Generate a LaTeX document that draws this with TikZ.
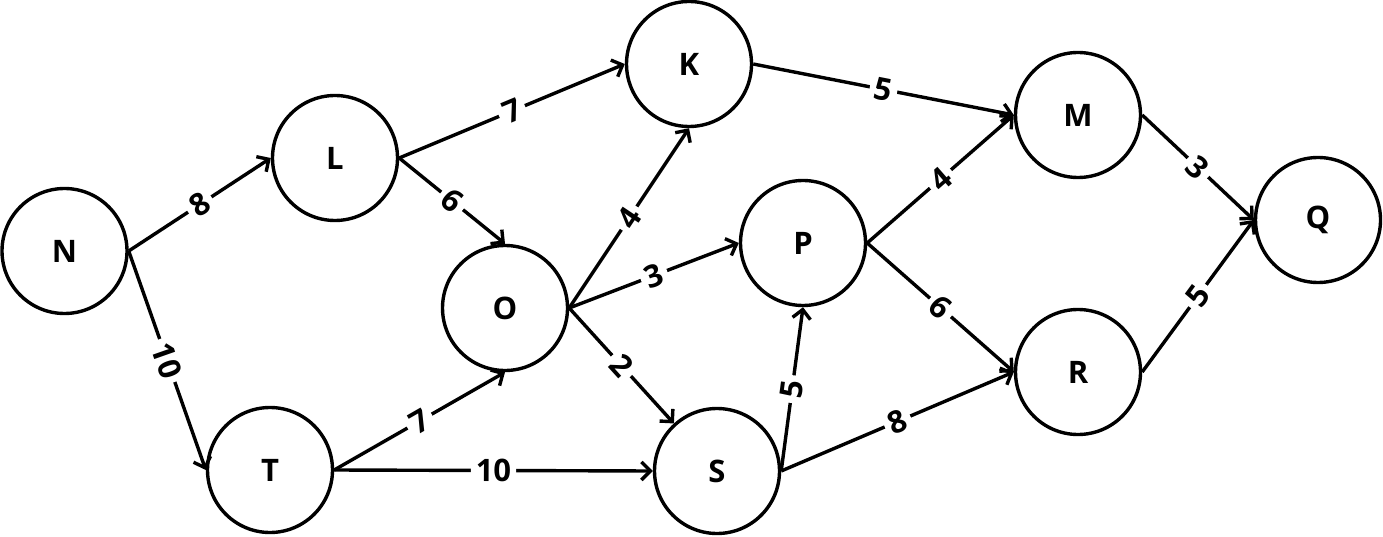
\documentclass[tikz,border=0pt]{standalone}
\usepackage{fontspec}
\setmainfont{Open Sans}
\usetikzlibrary{arrows.meta}
\tikzset{
  nd/.style={circle, draw, line width=3.4pt, minimum size=125pt, inner sep=0pt,
    font=\fontsize{31}{33}\selectfont\bfseries},
  ed/.style={line width=3.4pt, -{Straight Barb[length=9pt,width=18pt]}},
  lb/.style={fill=white, inner xsep=5pt, inner ysep=1pt, sloped, pos=0.5,
    font=\fontsize{31}{33}\selectfont\bfseries}
}
\begin{document}
\begin{tikzpicture}[x=1pt,y=-1pt]
\useasboundingbox (0,0) rectangle (1383,537);
\node[nd] (N) at (64.5,251) {N};
\node[nd] (L) at (335,158) {L};
\node[nd] (T) at (270,470) {T};
\node[nd] (O) at (505,308) {O};
\node[nd] (K) at (689,64) {K};
\node[nd] (P) at (803,243) {P};
\node[nd] (S) at (717,471) {S};
\node[nd] (M) at (1078,115) {M};
\node[nd] (R) at (1078,372) {R};
\node[nd] (Q) at (1318,220) {Q};

\draw[ed] (N.east) -- node[lb] {8} (L.west);
\draw[ed] (N.east) -- node[lb] {10} (T.west);
\draw[ed] (L.east) -- node[lb] {7} (K.west);
\draw[ed] (L.east) -- node[lb] {6} (O.north);
\draw[ed] (T.east) -- node[lb] {7} (O.south);
\draw[ed] (T.east) -- node[lb] {10} (S.west);
\draw[ed] (O.east) -- node[lb] {4} (K.south);
\draw[ed] (O.east) -- node[lb] {3} (P.west);
\draw[ed] (O.east) -- node[lb] {2} (S);
\draw[ed] (S.east) -- node[lb] {5} (P.south);
\draw[ed] (S.east) -- node[lb] {8} (R.west);
\draw[ed] (K.east) -- node[lb] {5} (M.west);
\draw[ed] (P.east) -- node[lb] {4} (M.west);
\draw[ed] (P.east) -- node[lb] {6} (R.west);
\draw[ed] (M.east) -- node[lb] {3} (Q.west);
\draw[ed] (R.east) -- node[lb] {5} (Q.west);
\end{tikzpicture}
\end{document}
